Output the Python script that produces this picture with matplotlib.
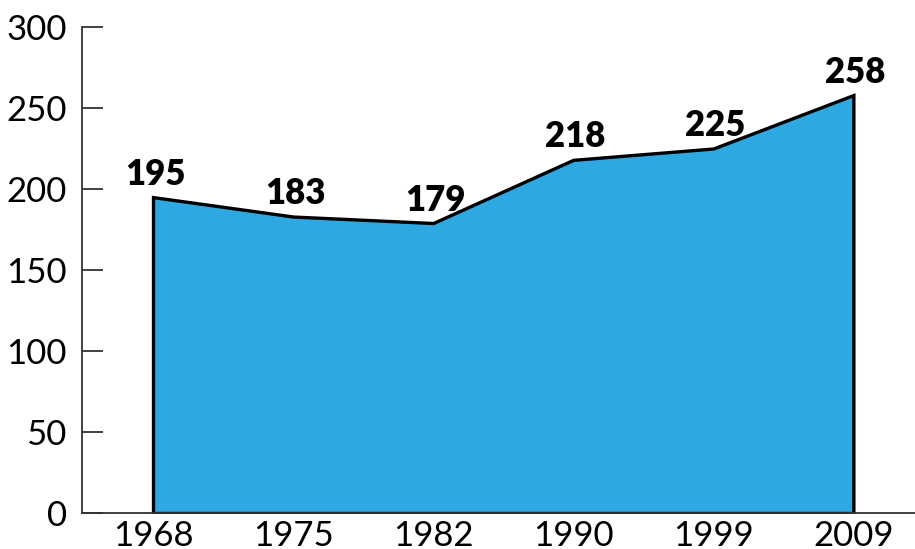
import matplotlib
import matplotlib.pyplot as plt
import numpy as np

years = ["1968", "1975", "1982", "1990", "1999", "2009"]
values = [195, 183, 179, 218, 225, 258]
y_ticks = [0, 50, 100, 150, 200, 250, 300]

matplotlib.rc("font", family=["Lato", "DejaVu Sans"])

fig = plt.figure(figsize=(9.15, 5.49), dpi=100)
ax = fig.add_axes([82 / 915, 1 - 513 / 549, 1 - 82 / 915, 486 / 549])

x = np.arange(len(years))
ax.fill_between(x, values, 0, facecolor="#2EA8E0", edgecolor="black",
                linewidth=2.4, joinstyle="miter")

for xi, v in zip(x, values):
    ax.text(xi + 0.015, v + 4, str(v), ha="center", va="bottom",
            fontsize=25, fontweight="heavy")

ax.set_xlim(-0.507, 5.44)
ax.set_ylim(0, 300)
ax.set_yticks(y_ticks)
ax.set_xticks(x, years)

for s in ["top", "right"]:
    ax.spines[s].set_visible(False)
for s in ["left", "bottom"]:
    ax.spines[s].set_color("#333333")
    ax.spines[s].set_linewidth(1.3)

ax.tick_params(axis="y", direction="in", length=15, width=1.3,
               color="#333333", labelsize=25, pad=11)
ax.tick_params(axis="x", length=0, labelsize=25, pad=5)

fig.savefig("out.png", dpi=100)
